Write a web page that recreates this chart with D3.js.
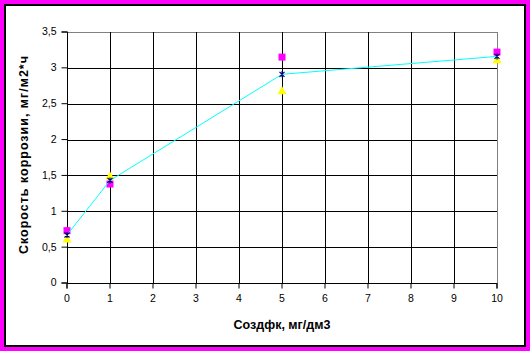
<!DOCTYPE html>
<html>
<head>
<meta charset="utf-8">
<script src="https://cdn.jsdelivr.net/npm/d3@7"></script>
<style>
  body { margin: 0; padding: 0; background: #fff; }
  svg text { font-family: Arial, "Liberation Sans", sans-serif; }
</style>
</head>
<body>
<div id="chart"></div>
<script>
// data
var xValues = [0, 1, 5, 10];
var seriesPink = [0.73, 1.38, 3.15, 3.22];
var seriesYellow = [0.60, 1.48, 2.67, 3.10];
var seriesMean = [0.67, 1.43, 2.91, 3.16];
var xTicks = [0, 1, 2, 3, 4, 5, 6, 7, 8, 9, 10];
var yTicks = [0, 0.5, 1, 1.5, 2, 2.5, 3, 3.5];
var xTitle = "Создфк, мг/дм3";
var yTitle = "Скорость коррозии, мг/м2*ч";

var W = 530, H = 351;
var margin = {top: 32, right: 33, bottom: 68, left: 67},
    width = W - margin.left - margin.right,
    height = H - margin.top - margin.bottom;

var svg = d3.select("#chart").append("svg")
    .attr("width", W)
    .attr("height", H);

// magenta frame + white chart area
svg.append("rect").attr("width", W).attr("height", H).attr("fill", "#ff00ff");
svg.append("rect")
    .attr("x", 5).attr("y", 5)
    .attr("width", 520).attr("height", 341)
    .attr("fill", "#fff")
    .attr("stroke", "#000")
    .attr("stroke-width", 2);

var g = svg.append("g")
    .attr("transform", "translate(" + margin.left + "," + margin.top + ")");

var x = d3.scaleLinear().domain([0, 10]).range([0, width]);
var y = d3.scaleLinear().domain([0, 3.5]).range([height, 0]);

var fmt = function(d) { return String(d).replace(".", ","); };
var px = function(v) { return Math.round(v) + 0.5; };

// plot border (gray top / right)
g.append("rect")
    .attr("x", 0.5).attr("y", px(y(3.5)))
    .attr("width", width).attr("height", height)
    .attr("fill", "none")
    .attr("stroke", "#808080");

// grid
g.append("g").selectAll("line")
  .data(yTicks.filter(function(d) { return d > 0 && d < 3.5; }))
  .enter().append("line")
    .attr("x1", 0).attr("x2", width)
    .attr("y1", function(d) { return px(y(d)); })
    .attr("y2", function(d) { return px(y(d)); })
    .attr("stroke", "#000");
g.append("g").selectAll("line")
  .data(xTicks.filter(function(d) { return d > 0 && d < 10; }))
  .enter().append("line")
    .attr("y1", 0).attr("y2", height)
    .attr("x1", function(d) { return px(x(d)); })
    .attr("x2", function(d) { return px(x(d)); })
    .attr("stroke", "#000");

// axes
var yAxis = g.append("g")
    .attr("transform", "translate(0.5,0)")
    .call(d3.axisLeft(y).tickValues(yTicks).tickFormat(fmt).tickSize(6).tickPadding(5).offset(0));
var xAxis = g.append("g")
    .attr("transform", "translate(0," + (height + 0.5) + ")")
    .call(d3.axisBottom(x).tickValues(xTicks).tickSize(5).tickPadding(6).offset(0));
[yAxis, xAxis].forEach(function(a) {
  a.select(".domain").attr("stroke", "#000");
  a.selectAll(".tick line").attr("stroke", "#000");
  a.selectAll("text").attr("fill", "#000").style("font-size", "10.5px")
    .style("font-family", "Arial, 'Liberation Sans', sans-serif");
});

// titles
svg.append("text")
    .attr("x", margin.left + width / 2)
    .attr("y", 329)
    .attr("text-anchor", "middle")
    .style("font-size", "12.5px")
    .style("font-weight", "bold")
    .text(xTitle);
svg.append("text")
    .attr("transform", "translate(28,155) rotate(-90)")
    .attr("text-anchor", "middle")
    .attr("textLength", 198)
    .attr("lengthAdjust", "spacing")
    .style("font-size", "12.5px")
    .style("font-weight", "bold")
    .text(yTitle);

// markers
var triangle = d3.symbol().type(d3.symbolTriangle).size(36);
var square = d3.symbol().type(d3.symbolSquare).size(49);

g.selectAll(".tri")
  .data(xValues.map(function(d, i) { return [d, seriesYellow[i]]; }))
  .enter().append("path")
    .attr("d", triangle)
    .attr("transform", function(d) { return "translate(" + x(d[0]) + "," + y(d[1]) + ")"; })
    .attr("fill", "#ffff00");

g.selectAll(".sq")
  .data(xValues.map(function(d, i) { return [d, seriesPink[i]]; }))
  .enter().append("path")
    .attr("d", square)
    .attr("transform", function(d) { return "translate(" + x(d[0]) + "," + y(d[1]) + ")"; })
    .attr("fill", "#ff00ff");

// mean line
var meanData = xValues.map(function(d, i) { return [d, seriesMean[i]]; });
g.append("path")
  .datum(meanData)
    .attr("fill", "none")
    .attr("stroke", "#00ffff")
    .attr("stroke-width", 1)
    .attr("d", d3.line()
      .x(function(d) { return x(d[0]); })
      .y(function(d) { return y(d[1]); }));

// star markers (x + vertical bar)
var star = {
  draw: function(ctx, size) {
    var r = 2.5;
    ctx.moveTo(-r, -r); ctx.lineTo(r, r);
    ctx.moveTo(-r, r); ctx.lineTo(r, -r);
    ctx.moveTo(0, -r - 0.5); ctx.lineTo(0, r + 0.5);
  }
};
g.selectAll(".star")
  .data(meanData)
  .enter().append("path")
    .attr("d", d3.symbol().type(star))
    .attr("transform", function(d) { return "translate(" + x(d[0]) + "," + y(d[1]) + ")"; })
    .attr("fill", "none")
    .attr("stroke", "#000080")
    .attr("stroke-width", 1.2);
</script>
</body>
</html>
